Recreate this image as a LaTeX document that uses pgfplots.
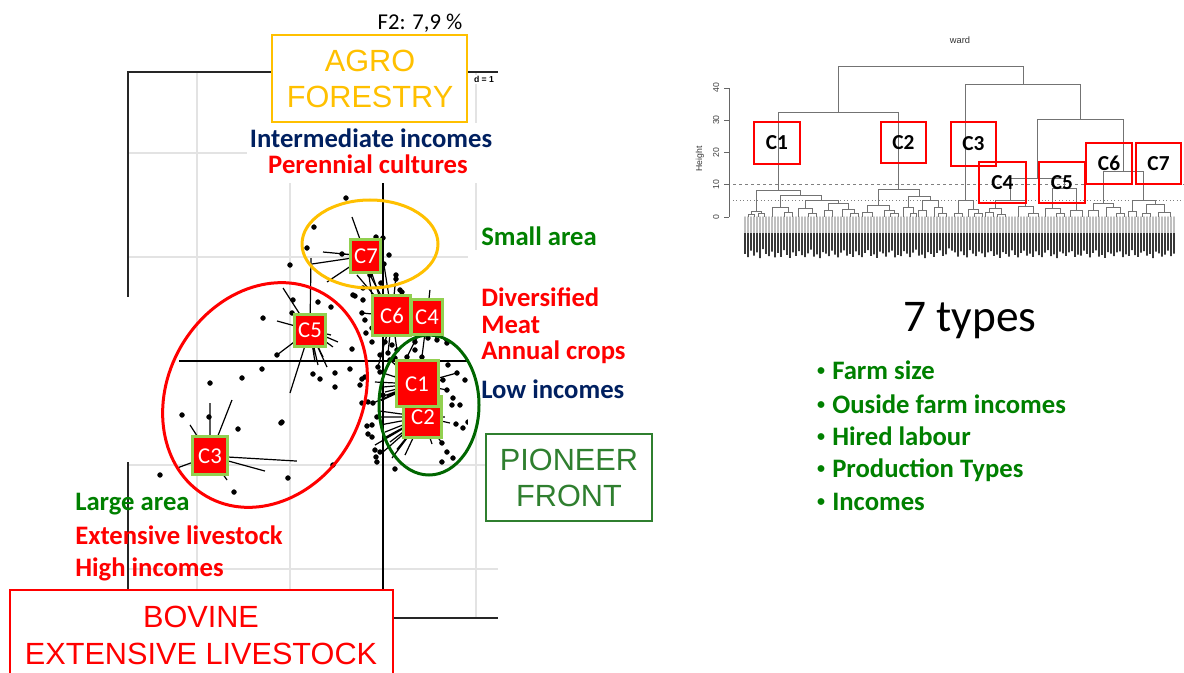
\documentclass[border=0pt]{standalone}
\usepackage{fontspec}
\setmainfont{Carlito}
\newfontfamily\arialf{Liberation Sans}
\usepackage{pgfplots}
\usepackage{pgfplotstable}
\pgfplotsset{compat=1.18}
\definecolor{cnavy}{HTML}{002060}
\definecolor{cgreen}{HTML}{008000}
\definecolor{corange}{HTML}{FFC000}
\definecolor{cdkgreen}{HTML}{006600}
\definecolor{cpion}{HTML}{2F7F2F}
\definecolor{clime}{HTML}{92D050}

% dendrogram leaves: position, bottom of the (illegible) leaf labels
\pgfplotstableread[row sep=\\]{
x lab\\
745 -11.5\\ 748 -12.5\\ 751 -10.5\\ 754 -12\\ 757 -11\\ 760 -12.8\\ 763 -10\\ 766 -11.5\\ 769 -12.2\\ 772 -10.8\\
775 -12.6\\ 778 -11.2\\ 781 -12.4\\ 784 -10.3\\ 787 -11.8\\ 790 -12.7\\ 793 -11\\ 796 -12.1\\ 799 -10.6\\ 802 -11.9\\
805 -12.5\\ 808 -11.3\\ 811 -10.2\\ 814 -12.3\\ 817 -11.6\\ 820 -12.8\\ 823 -10.9\\ 826 -11.4\\ 829 -12.2\\ 832 -10.5\\
835 -11.7\\ 838 -12.6\\ 841 -11.1\\ 844 -10.4\\ 847 -12\\ 850 -11.5\\ 853 -12.4\\ 856 -10.7\\ 859 -11.9\\ 862 -12.5\\
865 -11.2\\ 868 -10.3\\ 871 -12.1\\ 874 -11.6\\ 877 -12.7\\ 880 -10.8\\ 883 -11.3\\ 886 -12.3\\ 889 -11\\ 892 -10.5\\
895 -12.6\\ 898 -11.8\\ 901 -12.2\\ 904 -10.6\\ 907 -11.4\\ 910 -12.5\\ 913 -11.1\\ 916 -10.2\\ 919 -12\\ 922 -11.7\\
925 -12.8\\ 928 -10.9\\ 931 -11.5\\ 934 -12.4\\ 937 -11.2\\ 940 -10.4\\ 943 -12.1\\ 946 -11.6\\ 949 -9.8\\ 952 -10.5\\
955 -11\\ 958 -12.3\\ 961 -10.7\\ 964 -11.9\\ 967 -12.6\\ 970 -10.3\\ 973 -11.4\\ 976 -12.2\\ 979 -10.8\\ 982 -11.3\\
985 -12.5\\ 988 -11\\ 991 -10.6\\ 994 -12.1\\ 997 -11.7\\ 1000 -12.7\\ 1003 -10.9\\ 1006 -11.5\\ 1009 -12.3\\ 1012 -10.4\\
1015 -11.8\\ 1018 -12.6\\ 1021 -11.2\\ 1024 -10.5\\ 1027 -12\\ 1030 -11.4\\ 1033 -12.4\\ 1036 -10.7\\ 1039 -11.9\\ 1042 -12.5\\
1045 -11.1\\ 1048 -10.3\\ 1051 -12.2\\ 1054 -11.6\\ 1057 -12.8\\ 1060 -10.8\\ 1063 -11.3\\ 1066 -12.1\\ 1069 -11\\ 1072 -10.6\\
1075 -12.4\\ 1078 -11.7\\ 1081 -12\\ 1084 -10.5\\ 1087 -11.5\\ 1090 -12.6\\ 1093 -11.2\\ 1096 -10.4\\ 1099 -12.3\\ 1102 -11.8\\
1105 -12.7\\ 1108 -10.9\\ 1111 -11.4\\ 1114 -12.2\\ 1117 -11\\ 1120 -10.7\\ 1123 -12.5\\ 1126 -11.6\\ 1129 -12.1\\ 1132 -10.3\\
1135 -11.9\\ 1138 -12.4\\ 1141 -11.1\\ 1144 -10.6\\ 1147 -12\\ 1150 -11.5\\ 1153 -12.8\\ 1156 -10.8\\ 1159 -11.3\\ 1162 -12.3\\
1165 -11.7\\ 1168 -10.5\\ 1171 -12.2\\ 1174 -11.4\\
}\leaves

\pgfplotsset{
  clab/.style n args={2}{only marks, mark=none, nodes near coords, point meta=explicit symbolic,
    every node near coord/.style={anchor=center, fill=red, draw=clime, line width=2.25pt,
      text=white, font=\fontsize{17}{17}\selectfont, inner sep=0pt,
      minimum width=#1, minimum height=#2}},
  dend/.style={black!55, line width=0.55pt, mark=none},
  star/.style={black, line width=0.9pt, mark=none},
  pcabox/.style={at={(96pt,40.5pt)}, anchor=south west, scale only axis,
    width=277.5pt, height=409.5pt, xmin=-2.742, xmax=1.237, ymin=-2.471, ymax=2.779, clip=false},
}

\begin{document}
\begin{tikzpicture}
\useasboundingbox (0,0) rectangle (888pt,504pt);

% ---------------- PCA / s.class plot ----------------
\begin{axis}[pcabox,
  xtick={-2,-1,0,1}, ytick={-2,-1,0,1,2}, xticklabels={}, yticklabels={},
  major tick length=0pt, grid=major, grid style={draw=black!11, line width=1.1pt},
  axis line style={draw=none}]
  \draw[black!85, line width=1pt] (axis cs:-2.742,-2.471) -- (axis cs:-2.742,2.779) -- (axis cs:1.237,2.779);
  \draw[black!85, line width=1pt] (axis cs:-2.742,-2.471) -- (axis cs:1.237,-2.471);
  \draw[black, line width=0.8pt] (axis cs:0,-2.471) -- (axis cs:0,2.779);
  \draw[black, line width=0.8pt] (axis cs:-2.742,0) -- (axis cs:1.237,0);
  % stars (C7)
  \addplot[star] coordinates {(-0.183,1.010)(-0.333,1.385)(-0.183,1.010)(-0.645,1.048)(-0.183,1.010)(-0.763,0.933)
    (-0.183,1.010)(-0.602,0.760)(-0.183,1.010)(-0.118,0.625)(-0.183,1.010)(-0.441,1.029)(-0.183,1.010)(-0.032,0.606)};
  % C5
  \addplot[star] coordinates {(-0.785,0.298)(-1.075,0.702)(-0.785,0.298)(-0.774,0.990)(-0.785,0.298)(-1.140,0.385)
    (-0.785,0.298)(-1.140,0.058)(-0.785,0.298)(-1.000,-0.308)(-0.785,0.298)(-0.484,0.183)(-0.785,0.298)(-0.645,0.038)
    (-0.785,0.298)(-0.602,-0.058)(-0.785,0.298)(-0.699,-0.038)(-0.785,0.298)(-0.731,-0.010)(-0.785,0.298)(-0.559,0.250)
    (-0.785,0.298)(-0.538,0.135)};
  % C3
  \addplot[star] coordinates {(-1.860,-0.913)(-1.860,-0.404)(-1.860,-0.913)(-1.624,-0.375)(-1.860,-0.913)(-2.075,-0.615)
    (-1.860,-0.913)(-0.925,-0.962)(-1.860,-0.913)(-1.269,-1.058)(-1.860,-0.913)(-2.215,-1.029)(-1.860,-0.913)(-1.677,-1.144)};
  % C6
  \addplot[star] coordinates {(0.097,0.433)(-0.280,0.827)(0.097,0.433)(0.011,0.923)(0.097,0.433)(0.140,0.817)
    (0.097,0.433)(-0.226,0.462)(0.097,0.433)(-0.118,0.317)(0.097,0.433)(0.054,0.077)(0.097,0.433)(0.022,0.183)
    (0.097,0.433)(-0.054,-0.058)(0.097,0.433)(0.151,0.106)(0.097,0.433)(-0.140,0.827)};
  % C4
  \addplot[star] coordinates {(0.473,0.423)(0.344,0.183)(0.473,0.423)(0.484,0.221)(0.473,0.423)(0.581,0.202)
    (0.473,0.423)(0.688,0.173)(0.473,0.423)(0.419,0.038)(0.473,0.423)(0.258,0.038)(0.473,0.423)(0.613,0.587)
    (0.473,0.423)(0.505,0.683)};
  % C1
  \addplot[star] coordinates {(0.366,-0.221)(-0.032,-0.106)(0.366,-0.221)(-0.086,-0.202)(0.366,-0.221)(0.022,-0.298)
    (0.366,-0.221)(-0.054,-0.356)(0.366,-0.221)(-0.108,-0.404)(0.366,-0.221)(0.075,0.010)(0.366,-0.221)(0.129,-0.135)
    (0.366,-0.221)(0.645,-0.183)(0.366,-0.221)(0.688,-0.279)(0.366,-0.221)(0.796,-0.115)(0.366,-0.221)(0.183,-0.038)
    (0.366,-0.221)(0.000,-0.250)(0.366,-0.221)(0.043,-0.330)(0.366,-0.221)(-0.020,-0.380)(0.366,-0.221)(0.559,-0.038)};
  % C2
  \addplot[star] coordinates {(0.430,-0.538)(-0.065,-0.538)(0.430,-0.538)(-0.032,-0.615)(0.430,-0.538)(0.022,-0.683)
    (0.430,-0.538)(0.075,-0.779)(0.430,-0.538)(-0.086,-0.808)(0.430,-0.538)(0.000,-0.875)(0.430,-0.538)(0.097,-0.933)
    (0.430,-0.538)(0.237,-0.904)(0.430,-0.538)(0.527,-0.798)(0.430,-0.538)(0.667,-0.538)(0.430,-0.538)(0.720,-0.596)
    (0.430,-0.538)(0.634,-0.788)(0.430,-0.538)(-0.043,-0.480)(0.430,-0.538)(0.011,-0.740)(0.430,-0.538)(0.150,-0.850)};
  % individuals
  \addplot[only marks, mark=*, mark size=1.8pt, black] table[row sep=\\] {
    x y\\
    -0.398 1.567\\ -0.742 1.288\\ -0.075 1.192\\ 0.000 1.183\\ -0.817 1.087\\ -0.441 1.029\\ 0.065 1.019\\
    -1.000 0.923\\ 0.011 0.933\\ 0.140 0.827\\ 0.140 0.788\\ -0.140 0.827\\ -0.301 0.625\\ -0.699 0.567\\
    -0.215 0.587\\ 0.204 0.663\\ -0.022 0.750\\ 0.183 0.683\\
    -1.290 0.413\\ -0.978 0.462\\ -0.968 0.587\\ -1.140 0.058\\ -1.301 -0.077\\ -1.516 -0.163\\ -1.860 -0.212\\
    -0.559 0.519\\ -0.333 0.115\\ -0.355 -0.077\\ -0.516 -0.115\\ -0.677 -0.173\\ -0.753 -0.125\\ -0.516 -0.250\\
    -0.247 -0.231\\ -0.194 -0.154\\ -1.097 -0.596\\ -1.559 -0.654\\
    -0.323 0.635\\ -0.215 0.702\\ -0.226 0.462\\ -0.194 0.394\\ -0.118 0.317\\ -0.183 0.269\\ 0.022 0.183\\
    0.097 0.154\\ 0.054 0.077\\ 0.151 0.106\\ -0.054 -0.058\\ -0.118 0.183\\ 0.344 0.183\\ 0.484 0.221\\
    0.581 0.202\\ 0.688 0.173\\ 0.419 0.038\\ 0.258 0.038\\ 0.344 0.106\\ -0.032 0.058\\ 0.129 0.029\\
    0.796 -0.115\\ 0.645 -0.183\\ 0.882 -0.183\\ 0.688 -0.279\\ 0.753 -0.356\\ 0.828 -0.423\\ 0.742 -0.423\\
    0.914 -0.587\\ 0.860 -0.644\\ 0.785 -0.606\\ 0.634 -0.788\\ 0.688 -0.875\\ 0.753 -0.933\\ 0.634 -0.971\\
    0.129 -1.038\\ -0.065 -0.971\\ -0.075 -0.923\\ -0.086 -0.856\\ -0.032 -0.875\\ -0.161 -0.702\\ -0.172 -0.625\\
    -0.118 -0.731\\ -0.118 -0.615\\ -0.226 -0.404\\ -0.161 -0.394\\ -0.108 -0.404\\ -0.538 -1.000\\ 0.075 0.010\\
    -0.032 -0.106\\ 0.183 -0.038\\ 0.559 -0.038\\ 0.699 -0.038\\ -0.065 -0.538\\ -0.226 -0.173\\ 0.000 -0.327\\
    -2.161 -0.519\\ -1.871 -0.538\\ -1.086 -0.587\\ -2.398 -1.096\\ -1.022 -1.125\\ -1.602 -1.260\\
  };
\end{axis}

% covers and ellipses
\begin{scope}[x=0.75pt,y=-0.75pt,yshift=504pt]
  \fill[white] (247,123) rectangle (499,183);
  \fill[white] (468,250) rectangle (500,432);
  \fill[white] (120,297) rectangle (179,462);
  \draw[corange, line width=2.25pt] (370,244) ellipse [x radius=68, y radius=44];
  \draw[cdkgreen, line width=2.25pt] (429,405) ellipse [x radius=50, y radius=70];
\end{scope}
\draw[red, line width=2.25pt, rotate around={60:(198.75pt,207.75pt)}] (198.75pt,207.75pt) ellipse [x radius=87.75pt, y radius=72.75pt];

% class labels
\begin{axis}[pcabox, hide axis]
  \addplot[clab={26.25pt}{28.5pt}] coordinates {(-1.860,-0.913)[C3]};
  \addplot[clab={23.25pt}{24pt}] coordinates {(-0.785,0.298)[C5]};
  \addplot[clab={22.5pt}{24.75pt}] coordinates {(-0.183,1.010)[C7]};
  \addplot[clab={28.5pt}{30.75pt}] coordinates {(0.430,-0.538)[C2]};
  \addplot[clab={28.5pt}{30pt}] coordinates {(0.097,0.433)[C6]};
  \addplot[clab={23.25pt}{26.25pt}] coordinates {(0.473,0.423)[C4]};
  \addplot[clab={31.5pt}{34.5pt}] coordinates {(0.366,-0.221)[C1]};
\end{axis}

% annotations of the left part
\begin{scope}[x=0.75pt,y=-0.75pt,yshift=504pt, every node/.style={inner sep=0pt}]
  \node[anchor=base, font=\fontsize{17}{20}\selectfont] at (420,30) {F2: 7,9 \%};
  \filldraw[fill=white, draw=corange, line width=1.1pt] (272,35) rectangle (467,122);
  \node[text=corange, font=\arialf\fontsize{23}{23}\selectfont] at (370,60.5) {AGRO};
  \node[text=corange, font=\arialf\fontsize{23}{23}\selectfont] at (370,96.5) {FORESTRY};
  \node[fill=white, inner sep=1pt, font=\arialf\bfseries\fontsize{6.5}{7}\selectfont] at (484,79.5) {d = 1};
  \node[anchor=base, text=cnavy, font=\bfseries\fontsize{20}{24}\selectfont] at (371,148) {Intermediate incomes};
  \node[anchor=base, text=red, font=\bfseries\fontsize{20}{24}\selectfont] at (368,174) {Perennial cultures};
  \node[anchor=base west, text=cgreen, font=\bfseries\fontsize{20}{24}\selectfont] at (481,246) {Small area};
  \node[anchor=base west, text=red, font=\bfseries\fontsize{20}{24}\selectfont] at (481,306) {Diversified};
  \node[anchor=base west, text=red, font=\bfseries\fontsize{20}{24}\selectfont] at (481,333) {Meat};
  \node[anchor=base west, text=red, font=\bfseries\fontsize{20}{24}\selectfont] at (481,359) {Annual crops};
  \node[anchor=base west, text=cnavy, font=\bfseries\fontsize{20}{24}\selectfont] at (481,398) {Low incomes};
  \filldraw[fill=white, draw=cpion, line width=1.1pt] (486,434) rectangle (652,521);
  \node[text=cpion, font=\arialf\fontsize{23}{23}\selectfont] at (569,460) {PIONEER};
  \node[text=cpion, font=\arialf\fontsize{23}{23}\selectfont] at (569,496) {FRONT};
  \node[anchor=base west, text=cgreen, font=\bfseries\fontsize{20}{24}\selectfont] at (75,510) {Large area};
  \node[anchor=base west, text=red, font=\bfseries\fontsize{20}{24}\selectfont] at (75,544) {Extensive livestock};
  \node[anchor=base west, text=red, font=\bfseries\fontsize{20}{24}\selectfont] at (75,576) {High incomes};
  \filldraw[fill=white, draw=red, line width=1.1pt] (10,590) rectangle (393,700);
  \node[text=red, font=\arialf\fontsize{23}{23}\selectfont] at (201,616.5) {BOVINE};
  \node[text=red, font=\arialf\fontsize{23}{23}\selectfont] at (201,654) {EXTENSIVE LIVESTOCK};
  % right text
  \node[anchor=base west, font=\fontsize{34}{40}\selectfont] at (903,332) {7 types};
  \foreach \t/\yy in {Farm size/379, Ouside farm incomes/413, Hired labour/445, Production Types/477, Incomes/510}{
    \node[anchor=base, text=cgreen, font=\bfseries\fontsize{12}{12}\selectfont] at (821,\yy-4) {•};
    \node[anchor=base west, text=cgreen, font=\bfseries\fontsize{20}{24}\selectfont] at (832,\yy) {\t};
  }
\end{scope}

% ---------------- dendrogram ----------------
\begin{axis}[at={(546.75pt,307.5pt)}, anchor=south west, scale only axis,
  width=341.25pt, height=154.8pt, xmin=729, xmax=1184, ymin=-14, ymax=50,
  axis line style={draw=none}, xtick=\empty, ytick={0,10,20,30,40}, ytick pos=left,
  /pgf/number format/assume math mode=true,
  tick align=outside, major tick length=3.75pt, tick style={black!60, line width=0.5pt},
  yticklabel style={rotate=90, anchor=south, font=\arialf\fontsize{6.5}{7}\selectfont, text=black!75},
  ylabel={Height}, ylabel style={font=\arialf\fontsize{6.5}{7}\selectfont, text=black!80},
  clip=false]
  \draw[black!60, line width=0.5pt] (axis cs:729,0) -- (axis cs:729,40);
  \draw[black!50, line width=0.6pt, dash pattern=on 2.5pt off 2pt] (axis cs:733,10) -- (axis cs:1184,10);
  \draw[black!50, line width=0.6pt, dotted] (axis cs:733,5) -- (axis cs:1184,5);
  \addplot[ybar, bar shift=0pt, bar width=1.3pt, fill=black!78, draw=none] table[x=x, y=lab] {\leaves};
  \fill[white] (axis cs:740,0.1) rectangle (axis cs:1180,-5);
  \addplot[ybar, bar shift=0pt, bar width=0.8pt, fill=black!38, draw=none] table[x=x, y expr=-5] {\leaves};
  % C1
  \addplot[dend] coordinates {(748,0)(748,0.8)(754,0.8)(754,0)};
  \addplot[dend] coordinates {(751,0.8)(751,1.6)(761,1.6)(761,1.0)};
  \addplot[dend] coordinates {(758,0)(758,1.0)(764,1.0)(764,0)};
  \addplot[dend] coordinates {(772,0)(772,2.8)(788,2.8)(788,1.5)};
  \addplot[dend] coordinates {(784,0)(784,1.5)(792,1.5)(792,0)};
  \addplot[dend] coordinates {(798,0)(798,2.5)(812,2.5)(812,1.2)};
  \addplot[dend] coordinates {(808,0)(808,1.2)(816,1.2)(816,0)};
  \addplot[dend] coordinates {(824,0)(824,2.0)(832,2.0)(832,0)};
  \addplot[dend] coordinates {(842,0)(842,2.2)(854,2.2)(854,1.0)};
  \addplot[dend] coordinates {(850,0)(850,1.0)(858,1.0)(858,0)};
  \addplot[dend] coordinates {(828,2.0)(828,4.3)(848,4.3)(848,2.2)};
  \addplot[dend] coordinates {(805,2.5)(805,5.0)(838,5.0)(838,4.3)};
  \addplot[dend] coordinates {(780,2.8)(780,6.8)(821.5,6.8)(821.5,5.0)};
  \addplot[dend] coordinates {(756,1.6)(756,8.15)(800.75,8.15)(800.75,6.8)};
  % C2
  \addplot[dend] coordinates {(862,0)(862,1.5)(872,1.5)(872,0)};
  \addplot[dend] coordinates {(884,0)(884,2.0)(894,2.0)(894,1.0)};
  \addplot[dend] coordinates {(890,0)(890,1.0)(898,1.0)(898,0)};
  \addplot[dend] coordinates {(867,1.5)(867,3.7)(889,3.7)(889,2.0)};
  \addplot[dend] coordinates {(903,0)(903,3.0)(913,3.0)(913,1.2)};
  \addplot[dend] coordinates {(910,0)(910,1.2)(916,1.2)(916,0)};
  \addplot[dend] coordinates {(918,0)(918,2.0)(926,2.0)(926,0)};
  \addplot[dend] coordinates {(934,0)(934,3.0)(942,3.0)(942,1.2)};
  \addplot[dend] coordinates {(938,0)(938,1.2)(946,1.2)(946,0)};
  \addplot[dend] coordinates {(922,2.0)(922,5.0)(938,5.0)(938,3.0)};
  \addplot[dend] coordinates {(908,3.0)(908,6.5)(930,6.5)(930,5.0)};
  \addplot[dend] coordinates {(878,3.7)(878,8.6)(919,8.6)(919,6.5)};
  % C3
  \addplot[dend] coordinates {(954,0)(954,1.0)(962,1.0)(962,0)};
  \addplot[dend] coordinates {(968,0)(968,2.2)(978,2.2)(978,1.0)};
  \addplot[dend] coordinates {(974,0)(974,1.0)(982,1.0)(982,0)};
  \addplot[dend] coordinates {(958,1.0)(958,5.2)(973,5.2)(973,2.2)};
  % C4
  \addplot[dend] coordinates {(985,0)(985,1.5)(993,1.5)(993,0)};
  \addplot[dend] coordinates {(989,1.5)(989,2.5)(1001,2.5)(1001,0.8)};
  \addplot[dend] coordinates {(997,0)(997,0.8)(1005,0.8)(1005,0)};
  \addplot[dend] coordinates {(1018,0)(1018,3.1)(1033,3.1)(1033,1.2)};
  \addplot[dend] coordinates {(1028,0)(1028,1.2)(1038,1.2)(1038,0)};
  \addplot[dend] coordinates {(995,2.5)(995,5.2)(1025.5,5.2)(1025.5,3.1)};
  % C5
  \addplot[dend] coordinates {(1045,0)(1045,2.5)(1060,2.5)(1060,1.2)};
  \addplot[dend] coordinates {(1056,0)(1056,1.2)(1064,1.2)(1064,0)};
  \addplot[dend] coordinates {(1070,0)(1070,2.0)(1082,2.0)(1082,0)};
  \addplot[dend] coordinates {(1052.5,2.5)(1052.5,8.7)(1076,8.7)(1076,2.0)};
  \addplot[dend] coordinates {(1010.25,5.2)(1010.25,12.0)(1064.25,12.0)(1064.25,8.7)};
  % C6
  \addplot[dend] coordinates {(1088,0)(1088,2.0)(1098,2.0)(1098,0)};
  \addplot[dend] coordinates {(1106,0)(1106,2.8)(1120,2.8)(1120,1.0)};
  \addplot[dend] coordinates {(1116,0)(1116,1.0)(1124,1.0)(1124,0)};
  \addplot[dend] coordinates {(1093,2.0)(1093,4.3)(1113,4.3)(1113,2.8)};
  % C7
  \addplot[dend] coordinates {(1128,0)(1128,1.8)(1136,1.8)(1136,0)};
  \addplot[dend] coordinates {(1142,0)(1142,1.0)(1150,1.0)(1150,0)};
  \addplot[dend] coordinates {(1158,0)(1158,1.5)(1170,1.5)(1170,0)};
  \addplot[dend] coordinates {(1146,1.0)(1146,3.8)(1164,3.8)(1164,1.5)};
  \addplot[dend] coordinates {(1132,1.8)(1132,5.2)(1155,5.2)(1155,3.8)};
  % upper merges
  \addplot[dend] coordinates {(1103,4.3)(1103,14.2)(1143.5,14.2)(1143.5,5.2)};
  \addplot[dend] coordinates {(1037.25,12.0)(1037.25,30.3)(1123.25,30.3)(1123.25,14.2)};
  \addplot[dend] coordinates {(965.5,5.2)(965.5,41.2)(1080.25,41.2)(1080.25,30.3)};
  \addplot[dend] coordinates {(778.4,8.15)(778.4,32.5)(898.5,32.5)(898.5,8.6)};
  \addplot[dend] coordinates {(838.45,32.5)(838.45,46.7)(1022.9,46.7)(1022.9,41.2)};
\end{axis}

\begin{scope}[x=0.75pt,y=-0.75pt,yshift=504pt, every node/.style={font=\bfseries\fontsize{16}{16}\selectfont}]
  \node[font=\arialf\fontsize{7}{7}\selectfont, text=black!80] at (960,40) {ward};
  \draw[red, line width=1.5pt] (754,122) rectangle (800,164); \node at (777,143) {C1};
  \draw[red, line width=1.5pt] (881,122) rectangle (926,163); \node at (903.5,142.5) {C2};
  \draw[red, line width=1.5pt] (951,122) rectangle (996,166); \node at (973.5,144) {C3};
  \draw[red, line width=1.5pt] (979,162) rectangle (1026,203); \node at (1002.5,182.5) {C4};
  \draw[red, line width=1.5pt] (1039,162) rectangle (1085,203); \node at (1062,182.5) {C5};
  \draw[red, line width=1.5pt] (1086,143) rectangle (1132,184); \node at (1109,163.5) {C6};
  \draw[red, line width=1.5pt] (1136,143) rectangle (1181,184); \node at (1158.5,163.5) {C7};
\end{scope}
\end{tikzpicture}
\end{document}
